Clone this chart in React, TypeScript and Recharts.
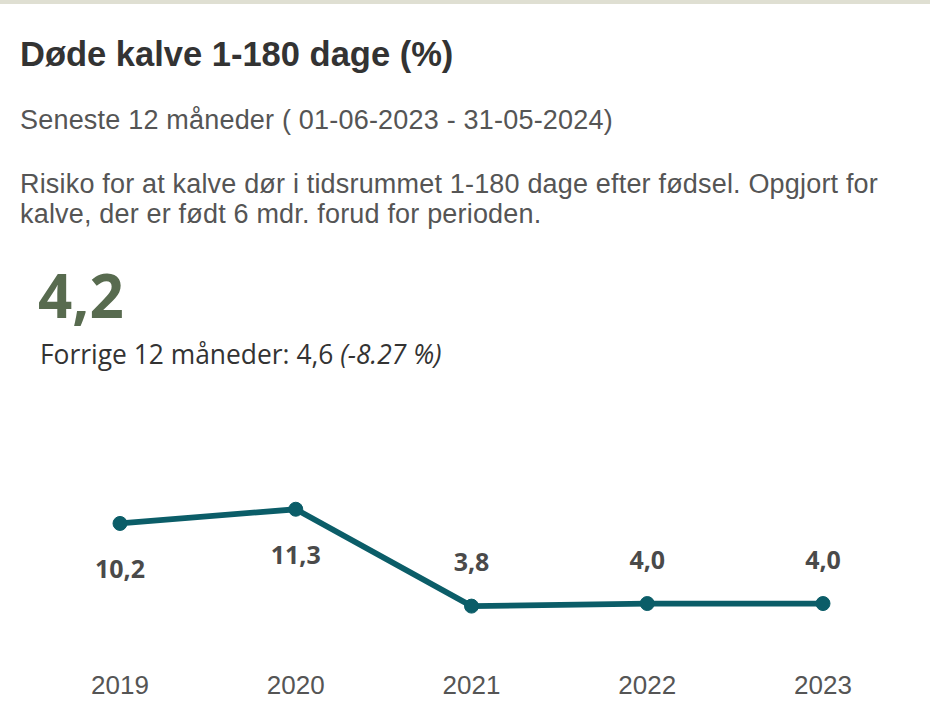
import React from 'react';
import { LineChart, Line, XAxis, YAxis, LabelList } from 'recharts';

const years = ['2019', '2020', '2021', '2022', '2023'];
const values = [10.2, 11.3, 3.8, 4.0, 4.0];
const valueLabels = ['10,2', '11,3', '3,8', '4,0', '4,0'];

const title = 'Døde kalve 1-180 dage (%)';
const subtitle = 'Seneste 12 måneder ( 01-06-2023 - 31-05-2024)';
const descLine1 = 'Risiko for at kalve dør i tidsrummet 1-180 dage efter fødsel. Opgjort for';
const descLine2 = 'kalve, der er født 6 mdr. forud for perioden.';
const currentValue = '4,2';
const previousText = 'Forrige 12 måneder: 4,6 ';
const changeText = '(-8.27 %)';

const data = years.map((y, i) => ({ year: y, value: values[i], label: valueLabels[i] }));

const TEAL = '#0b5d68';

const PointLabel = (props: any) => {
  const { x, y, index } = props;
  const v = values[index];
  const below = v > 8;
  const by = below ? y + 55 : y - 35;
  return (
    <text
      x={x}
      y={by}
      textAnchor="middle"
      fontFamily="'Open Sans', sans-serif"
      fontWeight={700}
      fontSize={25}
      fill="#4a4a4a"
    >
      {valueLabels[index]}
    </text>
  );
};

export default function App() {
  const sans = "'Liberation Sans', Arial, sans-serif";
  const open = "'Open Sans', sans-serif";
  return (
    <div style={{ position: 'absolute', left: 0, top: 0, width: 930, height: 714, background: '#ffffff', overflow: 'hidden' }}>
      <div style={{ position: 'absolute', left: 0, top: 0, width: 930, height: 4, background: '#dfdfd2' }} />
      <div style={{ position: 'absolute', left: 20, top: 37, fontFamily: sans, fontWeight: 700, fontSize: 34.5, lineHeight: '34px', color: '#333333', whiteSpace: 'nowrap' }}>
        {title}
      </div>
      <div style={{ position: 'absolute', left: 20, top: 107, fontFamily: sans, fontSize: 27, lineHeight: '27px', letterSpacing: '0.2px', color: '#555555', whiteSpace: 'nowrap' }}>
        {subtitle}
      </div>
      <div style={{ position: 'absolute', left: 20, top: 169, fontFamily: sans, fontSize: 27, lineHeight: '30px', letterSpacing: '0.18px', color: '#555555', whiteSpace: 'nowrap' }}>
        <div>{descLine1}</div>
        <div>{descLine2}</div>
      </div>
      <div style={{ position: 'absolute', left: 38, top: 265, fontFamily: open, fontWeight: 700, fontSize: 60, lineHeight: '60px', color: '#586b4f', whiteSpace: 'nowrap' }}>
        {currentValue}
      </div>
      <div style={{ position: 'absolute', left: 40, top: 341, fontFamily: open, fontSize: 26.4, lineHeight: '26px', color: '#333333', whiteSpace: 'nowrap' }}>
        {previousText}
        <span style={{ fontStyle: 'italic' }}>{changeText}</span>
      </div>
      <div style={{ position: 'absolute', left: 0, top: 440 }}>
        <LineChart width={930} height={274} data={data} margin={{ top: 60.2, right: 107, bottom: 0, left: 120 }}>
          <XAxis
            dataKey="year"
            axisLine={false}
            tickLine={false}
            height={58.8}
            tickMargin={14.8}
            interval={0}
            padding={{ left: 0, right: 0 }}
            tick={{ fontFamily: sans, fontSize: 26, fill: '#555555' }}
          />
          <YAxis hide domain={[0, 12]} />
          <Line
            type="linear"
            dataKey="value"
            stroke={TEAL}
            strokeWidth={5.8}
            dot={{ r: 7, fill: TEAL, stroke: TEAL, strokeWidth: 1 }}
            activeDot={false}
            isAnimationActive={false}
          >
            <LabelList dataKey="value" content={<PointLabel />} />
          </Line>
        </LineChart>
      </div>
    </div>
  );
}
